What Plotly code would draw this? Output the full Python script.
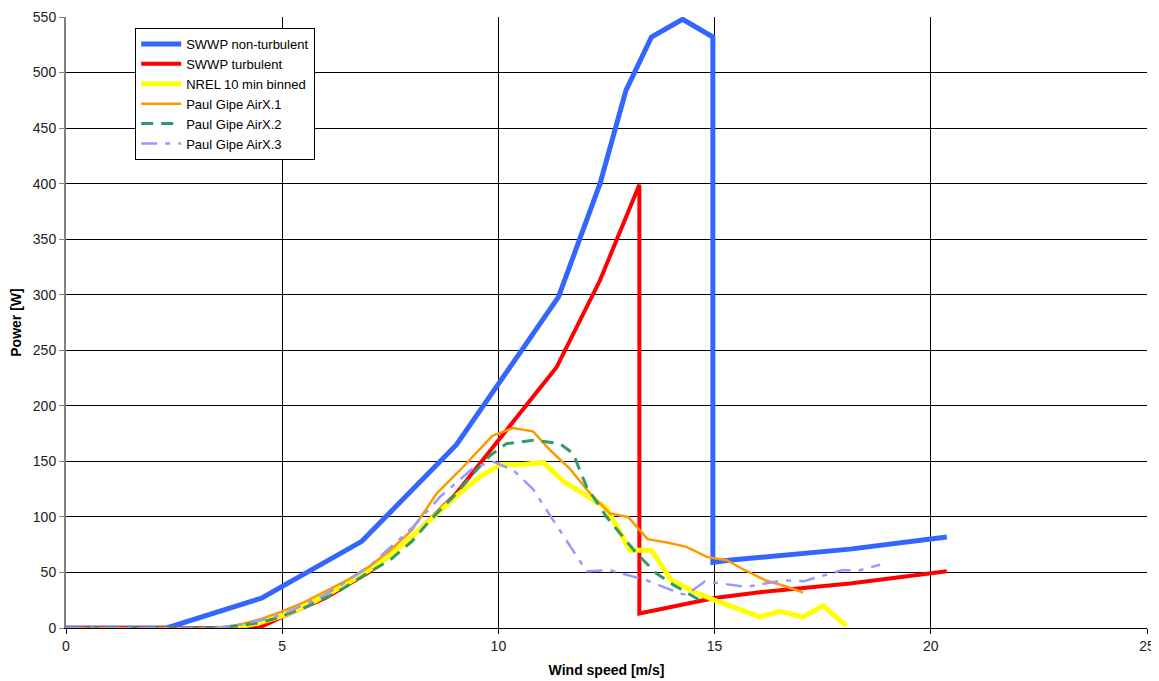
import plotly.graph_objects as go

# SWWP non-turbulent
blue_x = [0, 2.33, 4.53, 6.84, 9.03, 11.39, 12.35, 12.95, 13.54, 14.26, 14.96, 14.96, 15.32, 18.13, 20.37]
blue_y = [0, 0, 27, 78, 165, 298, 400, 484, 532, 548, 532, 59, 61, 71, 82]

# SWWP turbulent
red_x = [0, 4.45, 5, 6, 7, 8, 9, 9.57, 10.04, 11.35, 12.35, 13.26, 13.26, 15, 16, 17, 18.13, 20.37]
red_y = [0, 0, 10, 27, 50, 82, 120, 148, 172, 235, 313, 399, 13, 27, 32, 36, 40, 51]

# NREL 10 min binned
yel_x = [3.5, 4, 4.5, 5, 5.5, 6, 6.5, 7, 7.5, 8, 8.5, 9, 9.57, 10.04, 10.5, 11.04, 11.5, 12.0, 12.5,
         13.04, 13.54, 14.0, 14.5, 15.0, 15.43, 16.05, 16.51, 17.05, 17.51, 18.05]
yel_y = [0, 1, 5, 11, 19, 29, 40, 52, 66, 82, 100, 118, 136, 147, 147, 149, 132, 120, 108,
         70, 70, 43, 33, 25, 19, 10, 15, 10, 20, 2]

# Paul Gipe AirX.1
org_x = [0, 3.5, 4, 4.5, 5, 5.5, 6, 6.5, 7, 7.5, 8, 8.57, 9.11, 9.86, 10.33, 10.8, 11.2, 11.66, 12.1,
         12.58, 13.0, 13.45, 13.9, 14.35, 14.82, 15.28, 15.7, 16.17, 16.6, 17.05]
org_y = [0, 0, 3, 8, 15, 23, 33, 43, 55, 70, 88, 121, 142, 173, 180, 177, 160, 143, 122,
         103, 100, 80, 77, 73, 64, 61, 52, 43, 38, 32]

# Paul Gipe AirX.2
grn_x = [0, 3.5, 4, 4.5, 4.87, 5.5, 6.26, 7, 7.49, 8, 8.42, 9, 9.42, 9.8, 10.19, 10.81, 11.42, 11.73,
         12.04, 12.5, 13.2, 13.66, 14.04, 14.66]
grn_y = [0, 0, 2, 5, 9, 18, 32, 50, 61, 78, 97, 120, 139, 155, 166, 169, 166, 157,
         127, 100, 67, 49, 39, 25]

# Paul Gipe AirX.3
lav_x = [0, 3.5, 4, 4.5, 5, 6, 7, 8, 8.65, 9.42, 9.86, 10.35, 10.8, 11.19, 12.04, 12.58, 13.43, 14.2,
         14.35, 14.78, 15.74, 16.59, 17.05, 17.94, 18.36, 18.83]
lav_y = [0, 0, 3, 7, 12, 30, 55, 90, 118, 144, 150, 142, 125, 102, 51, 52, 43, 31,
         30, 42, 37, 43, 42, 52, 52, 57]

x_ticks = [0, 5, 10, 15, 20, 25]
y_ticks = [0, 50, 100, 150, 200, 250, 300, 350, 400, 450, 500, 550]

fig = go.Figure()
fig.add_trace(go.Scatter(x=blue_x, y=blue_y, mode="lines", name="SWWP non-turbulent",
                         line=dict(color="#3366FF", width=5)))
fig.add_trace(go.Scatter(x=red_x, y=red_y, mode="lines", name="SWWP turbulent",
                         line=dict(color="#FF0000", width=4)))
fig.add_trace(go.Scatter(x=yel_x, y=yel_y, mode="lines", name="NREL 10 min binned",
                         line=dict(color="#FFFF00", width=5)))
fig.add_trace(go.Scatter(x=org_x, y=org_y, mode="lines", name="Paul Gipe AirX.1",
                         line=dict(color="#FF9900", width=2.5)))
fig.add_trace(go.Scatter(x=grn_x, y=grn_y, mode="lines", name="Paul Gipe AirX.2",
                         line=dict(color="#339966", width=3, dash="12px,8px")))
fig.add_trace(go.Scatter(x=lav_x, y=lav_y, mode="lines", name="Paul Gipe AirX.3",
                         line=dict(color="#9999FF", width=2.5, dash="16px,8px,5px,8px")))

# The page body has an 8px margin, so the figure is sized to fit the window.
fig.update_layout(
    width=1151, height=673,
    margin=dict(l=58, r=12, t=9, b=53),
    paper_bgcolor="white", plot_bgcolor="white",
    font=dict(family="Liberation Sans, Arial, sans-serif", size=14, color="black"),
    showlegend=True,
    hovermode=False,
    legend=dict(x=0.064, y=0.982, xanchor="left", yanchor="top",
                bgcolor="white", bordercolor="black", borderwidth=1,
                font=dict(size=13), tracegroupgap=0, itemwidth=40),
)
fig.update_xaxes(range=[0, 25], tickvals=x_ticks, showgrid=True, gridcolor="black", gridwidth=1,
                 zeroline=False, showline=True, linecolor="black", linewidth=1,
                 ticks="outside", ticklen=5, tickcolor="black", automargin=False,
                 tickfont=dict(size=14, color="#222222"),
                 title=dict(text="<b>Wind speed [m/s]</b>", font=dict(size=14), standoff=12))
fig.update_yaxes(range=[0, 550], tickvals=y_ticks, showgrid=True, gridcolor="black", gridwidth=1,
                 zeroline=False, showline=True, linecolor="#808080", linewidth=2,
                 ticks="outside", ticklen=5, tickcolor="#808080", automargin=False,
                 tickfont=dict(size=14, color="#222222"),
                 title=dict(text="<b>Power [W]</b>", font=dict(size=14), standoff=9))

fig.write_html("out.html")
